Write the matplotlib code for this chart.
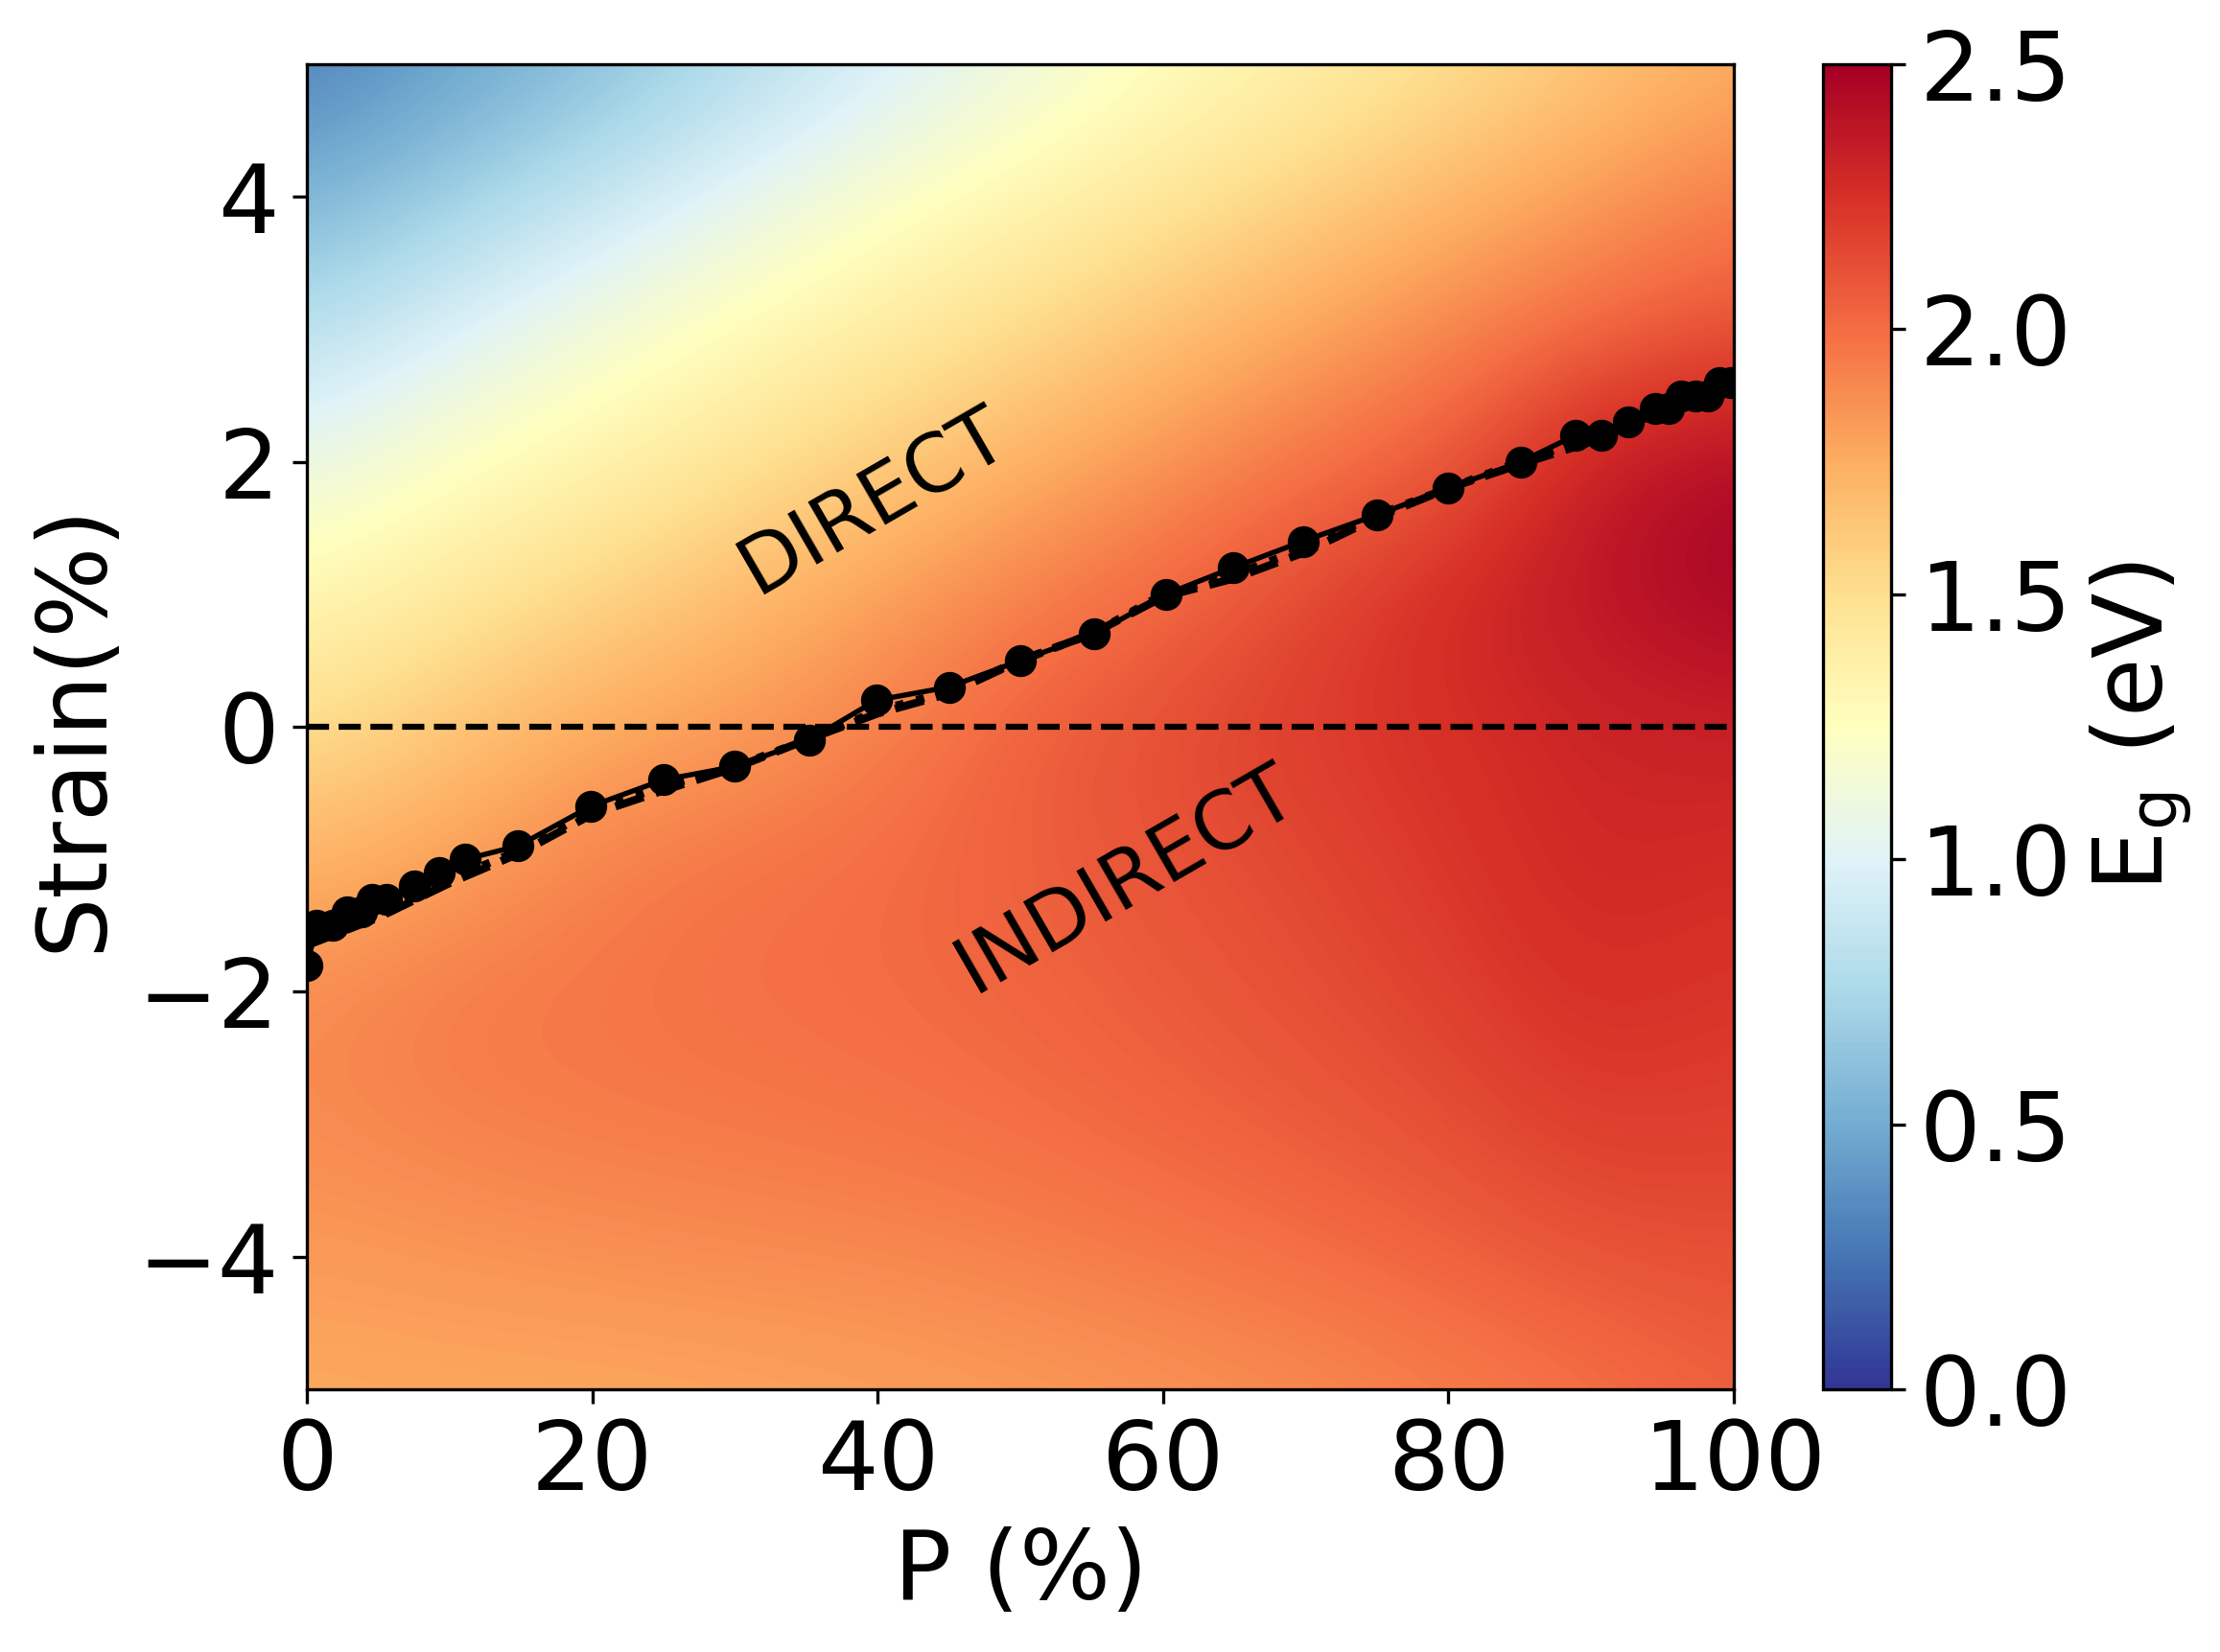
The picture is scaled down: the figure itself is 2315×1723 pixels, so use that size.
import numpy as np
import matplotlib
matplotlib.use('Agg')
import matplotlib.pyplot as plt

plt.rcParams['font.family'] = ['DejaVu Sans']
plt.rcParams['font.size'] = 24

# 격자 (P %, strain %)
p_grid = [0, 10, 20, 30, 40, 50, 60, 70, 80, 90, 100]
strain_grid = [-5, -4, -3, -2, -1, 0, 1, 2, 3, 4, 5]

# band gap Eg (eV), 행 = strain -5 ... 5
eg_m5 = [1.76, 1.77, 1.77, 1.78, 1.80, 1.82, 1.85, 1.88, 1.93, 1.98, 2.05]
eg_m4 = [1.82, 1.84, 1.86, 1.88, 1.89, 1.92, 1.95, 1.99, 2.04, 2.10, 2.12]
eg_m3 = [1.88, 1.92, 1.94, 1.95, 1.97, 1.99, 2.03, 2.07, 2.12, 2.20, 2.18]
eg_m2 = [1.88, 1.95, 1.96, 1.99, 2.00, 2.03, 2.07, 2.12, 2.18, 2.26, 2.22]
eg_m1 = [1.71, 1.80, 1.92, 1.97, 2.00, 2.05, 2.10, 2.15, 2.22, 2.30, 2.27]
eg_0 = [1.50, 1.63, 1.76, 1.82, 1.92, 2.05, 2.13, 2.20, 2.25, 2.30, 2.32]
eg_p1 = [1.31, 1.43, 1.55, 1.68, 1.80, 1.92, 2.02, 2.15, 2.28, 2.38, 2.48]
eg_p2 = [1.08, 1.23, 1.35, 1.47, 1.60, 1.73, 1.85, 1.97, 2.07, 2.35, 2.45]
eg_p3 = [0.81, 0.98, 1.14, 1.28, 1.40, 1.52, 1.65, 1.78, 1.90, 2.01, 2.10]
eg_p4 = [0.53, 0.70, 0.87, 1.04, 1.20, 1.33, 1.45, 1.57, 1.70, 1.82, 1.94]
eg_p5 = [0.30, 0.44, 0.59, 0.77, 0.94, 1.10, 1.25, 1.37, 1.49, 1.62, 1.75]

# direct / indirect 경계
p_line = [0, 0.7, 1.8, 2.8, 3.8, 4.6, 5.6, 7.5, 9.3, 11.1, 14.8, 19.9, 25, 30,
          35.2, 39.9, 45, 50, 55.2, 60.2, 64.9, 69.8, 75, 80, 85.1, 88.9, 90.7,
          92.6, 94.5, 95.4, 96.3, 97.3, 98.2, 99, 99.8]
strain_line = [-1.8, -1.5, -1.5, -1.4, -1.4, -1.3, -1.3, -1.2, -1.1, -1.0, -0.9,
               -0.6, -0.4, -0.3, -0.1, 0.2, 0.3, 0.5, 0.7, 1.0, 1.2, 1.4, 1.6,
               1.8, 2.0, 2.2, 2.2, 2.3, 2.4, 2.4, 2.5, 2.5, 2.5, 2.6, 2.6]

p_fit = [0, 5, 10, 15, 20, 25, 30, 35, 40, 45, 50, 55, 60, 65, 70, 75, 80, 85, 90, 95, 100]
strain_dash = [-1.65, -1.44, -1.18, -0.95, -0.66, -0.48, -0.31, -0.1, 0.1, 0.25, 0.5,
               0.7, 0.98, 1.12, 1.32, 1.58, 1.8, 1.98, 2.15, 2.38, 2.6]
strain_dot = [-1.6, -1.42, -1.15, -0.93, -0.63, -0.45, -0.3, -0.1, 0.12, 0.27, 0.5,
              0.7, 1.0, 1.15, 1.35, 1.6, 1.8, 2.0, 2.18, 2.4, 2.6]

eg = np.array([eg_m5, eg_m4, eg_m3, eg_m2, eg_m1, eg_0, eg_p1, eg_p2, eg_p3, eg_p4, eg_p5])

fig = plt.figure(figsize=(2315 / 300, 1723 / 300), dpi=300)
ax = fig.add_axes([320 / 2315, 274 / 1723, 1488 / 2315, 1382 / 1723])
cax = fig.add_axes([1901 / 2315, 274 / 1723, 71 / 2315, 1382 / 1723])

dp = p_grid[1] - p_grid[0]
ds = strain_grid[1] - strain_grid[0]
im = ax.imshow(eg, origin='lower', cmap='RdYlBu_r', vmin=0, vmax=2.5,
               extent=[p_grid[0] - dp / 2, p_grid[-1] + dp / 2,
                       strain_grid[0] - ds / 2, strain_grid[-1] + ds / 2],
               aspect='auto', interpolation='bicubic')

ax.plot(p_fit, strain_dash, 'k--', lw=2)
ax.plot(p_fit, strain_dot, 'k:', lw=2)
ax.plot(p_line, strain_line, 'k-o', lw=1.3, ms=7, zorder=5)
ax.axhline(0, color='k', ls='--', lw=1.5)

ax.text(39.7, 1.7, 'DIRECT', rotation=30, fontsize=20, ha='center', va='center')
ax.text(57.4, -1.15, 'INDIRECT', rotation=30, fontsize=20, ha='center', va='center')

ax.set_xlim(0, 100)
ax.set_ylim(-5, 5)
ax.set_xticks([0, 20, 40, 60, 80, 100])
ax.set_yticks([-4, -2, 0, 2, 4])
ax.set_xlabel('P (%)')
ax.set_ylabel('Strain(%)')

cb = fig.colorbar(im, cax=cax, ticks=[0, 0.5, 1.0, 1.5, 2.0, 2.5])
cb.set_label(r'E$_\mathrm{g}$ (eV)')

fig.savefig('out.png', dpi=300)
